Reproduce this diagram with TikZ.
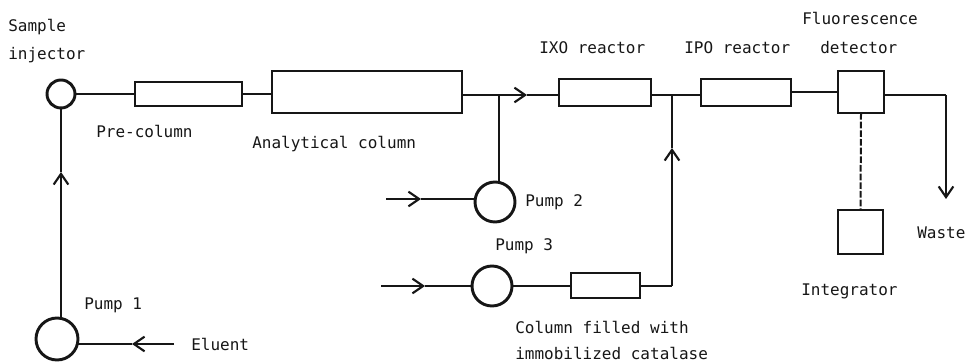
\documentclass[tikz,border=0pt]{standalone}
\usepackage{fontspec}
\setmainfont{DejaVu Sans Mono}
\usetikzlibrary{arrows.meta}
\definecolor{ink}{HTML}{161616}
\tikzset{
  x=0.75pt,y=-0.75pt,
  pipe/.style={draw=ink,line width=1.5pt},
  flow/.style={pipe,-{Straight Barb[length=8pt,width=11pt,line width=1.6pt]}},
  unit/.style={draw=ink,line width=2.2pt,inner sep=0pt,outer sep=0pt},
  valve/.style={unit,circle,minimum size=#1*1.5pt},
  box/.style n args={2}{unit,rectangle,minimum width=#1*0.75pt,minimum height=#2*0.75pt},
  lbl/.style={anchor=base west,inner sep=0pt,text=ink,font=\fontsize{12pt}{14pt}\selectfont},
}
\begin{document}
\begin{tikzpicture}
\useasboundingbox (0,0) rectangle (967,363);
% units
\node[valve=14] (inj) at (61,94) {};
\node[valve=21] (pump1) at (57,339) {};
\node[valve=20] (pump2) at (495,202) {};
\node[valve=20] (pump3) at (492,286) {};
\node[box={107}{24}] (pre) at (188.5,94) {};
\node[box={190}{42}] (ana) at (367,92) {};
\node[box={92}{27}] (ixo) at (605,92.5) {};
\node[box={90}{27}] (ipo) at (746,92.5) {};
\node[box={46}{42}] (det) at (861,92) {};
\node[box={45}{44}] (integ) at (860.5,232) {};
\node[box={69}{25}] (cat) at (605.5,285.5) {};
% free ends and junctions
\coordinate (a1) at (61,172);
\coordinate (jA) at (499,95);
\coordinate (a2) at (527,95);
\coordinate (jB) at (673,95);
\coordinate (a3) at (672,148);
\coordinate (corner3) at (672,286);
\coordinate (cornerW) at (946,95);
\coordinate (wasteEnd) at (946,199);
\coordinate (in2) at (386,199);
\coordinate (a4) at (421,199);
\coordinate (in3) at (381,286);
\coordinate (a5) at (425,286);
\coordinate (inE) at (174,344);
\coordinate (a6) at (132,344);
% connectors
\draw[flow] (pump1.north -| a1) -- (a1);
\draw[pipe] (a1) -- (inj.south);
\draw[pipe] (inj.east) -- (pre.west);
\draw[pipe] (pre.east) -- (ana.west |- pre.east);
\draw[pipe] (ana.east |- jA) -- (jA);
\draw[flow] (jA) -- (a2);
\draw[pipe] (a2) -- (ixo.west |- a2);
\draw[pipe] (ixo.east |- jB) -- (jB) -- (ipo.west |- jB);
\draw[pipe] (ipo.east |- det.east) -- (det.west);
\draw[pipe] (det.east |- cornerW) -- (cornerW);
\draw[flow] (cornerW) -- (wasteEnd);
\draw[pipe,dash pattern=on 5pt off 1.5pt] (det.south) -- (integ.north);
\draw[pipe] (jA) -- (jA |- pump2.north);
\draw[flow] (in2) -- (a4);
\draw[pipe] (a4) -- (pump2.west |- a4);
\draw[flow] (in3) -- (a5);
\draw[pipe] (a5) -- (pump3.west);
\draw[pipe] (pump3.east) -- (cat.west |- pump3.east);
\draw[pipe] (cat.east |- corner3) -- (corner3);
\draw[flow] (corner3) -- (a3);
\draw[pipe] (a3) -- (jB -| a3);
\draw[flow] (inE) -- (a6);
\draw[pipe] (a6) -- (pump1.east |- a6);
% labels
\node[lbl] (t1) at (8,32) {Sample};
\node[lbl] (t2) at (8,60) {injector};
\node[lbl] (t3) at (96,138) {Pre-column};
\node[lbl] (t4) at (252,149) {Analytical column};
\node[lbl] (t5) at (84,310) {Pump 1};
\node[lbl] (t6) at (191,350) {Eluent};
\node[lbl] (t7) at (539,54) {IXO reactor};
\node[lbl] (t8) at (684,54) {IPO reactor};
\node[lbl] (t9) at (802,25) {Fluorescence};
\node[lbl] (t10) at (820,54) {detector};
\node[lbl] (t11) at (525,207) {Pump 2};
\node[lbl] (t12) at (495,251) {Pump 3};
\node[lbl] (t13) at (917,239) {Waste};
\node[lbl] (t14) at (801,296) {Integrator};
\node[lbl] (t15) at (515,333) {Column filled with};
\node[lbl] (t16) at (515,359) {immobilized catalase};
\end{tikzpicture}
\end{document}
